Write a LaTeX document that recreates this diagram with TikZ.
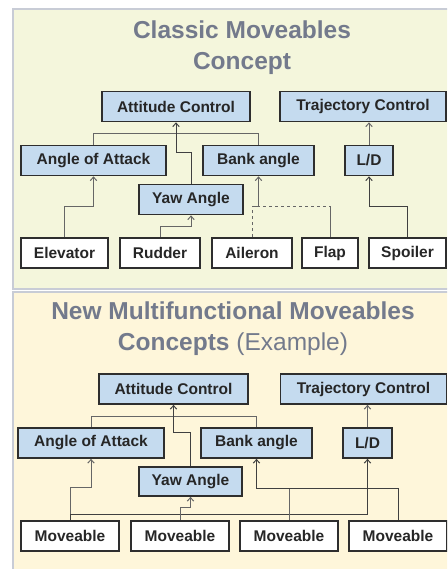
\documentclass[tikz,border=0pt]{standalone}
\usepackage{fontspec}
\setmainfont{Liberation Sans}
\usepackage{tikz}
\usetikzlibrary{positioning}
\usetikzlibrary{arrows.meta}

\definecolor{paneltop}{HTML}{F4F6DC}
\definecolor{panelbot}{HTML}{FEF6DA}
\definecolor{panelrim}{HTML}{C8CCD6}
\definecolor{boxblue}{HTML}{C5DBEF}
\definecolor{boxrim}{HTML}{2E2E2E}
\definecolor{linkgrey}{HTML}{666666}
\definecolor{titlegrey}{HTML}{737A8C}

\tikzset{
  goal/.style={draw=boxrim, line width=1.8pt, fill=boxblue, inner sep=0pt,
    minimum height=30pt, text=black!85,
    font=\bfseries\fontsize{15.5}{16}\selectfont},
  surf/.style={goal, fill=white},
  link/.style={draw=linkgrey, line width=1pt,
    >={Straight Barb[length=3.5pt, width=6.5pt]}},
  title/.style={text=titlegrey, align=center,
    font=\bfseries\fontsize{24.5}{31}\selectfont}
}

\begin{document}
\begin{tikzpicture}[x=1pt, y=-1pt]
  \useasboundingbox (0,0) rectangle (447,569);
  \clip (0,0) rectangle (447,569);

  % Panels
  \draw[panelrim, line width=2.5pt, fill=paneltop] (13,9) rectangle (452,289);
  \draw[panelrim, line width=2.5pt, fill=panelbot] (13,292) rectangle (452,575);

  % Classic concept
  \node[title] (t1) at (242,48) {Classic Moveables\\Concept};

  \node[goal, minimum width=148pt] (att1) at (176,106.5) {Attitude Control};
  \node[goal, minimum width=166pt] (traj1) at (363,106.5) {Trajectory Control};
  \node[goal, minimum width=145pt] (aoa1) at (93.5,160.5) {Angle of Attack};
  \node[goal, minimum width=111pt] (bank1) at (258.5,160.5) {Bank angle};
  \node[goal, minimum width=48pt] (ld1) at (369,160.5) {L/D};
  \node[goal, minimum width=104pt] (yaw1) at (191,199.5) {Yaw Angle};

  \node[surf, minimum width=87pt] (elev) at (64.5,253) {Elevator};
  \node[surf, minimum width=80pt, right=10.2pt of elev] (rud) {Rudder};
  \node[surf, minimum width=80pt, right=10.2pt of rud] (ail) {Aileron};
  \node[surf, minimum width=56pt, right=8.2pt of ail] (flap) {Flap};
  \node[surf, minimum width=77pt, right=9.2pt of flap] (spoil) {Spoiler};

  % Edges
  \draw[link] (aoa1.north) -- ++(0,-11) -| (bank1.north);
  \draw[link, ->, draw=black!75] (yaw1.north) -- ++(0,-31) -| (att1.south);
  \draw[link, ->] (ld1.north) -- (ld1.north |- traj1.south);
  \draw[link, ->] (elev.north) -- ++(0,-31) -| (aoa1.south);
  \draw[link, ->] (rud.north) -- ++(0,-11) -| (yaw1.south);
  \draw[link, dashed] (ail.north) -- ++(0,-31) coordinate (ailj) -- (ailj -| flap.north);
  \draw[link, ->] (ailj) -| (bank1.south);
  \draw[link] (flap.north) -- ++(0,-31);
  \draw[link, ->, draw=black!75] (spoil.north) -- ++(0,-31) -| (ld1.south);

  % Multifunctional concept
  \node[title] (t2) at (233,329) {New Multifunctional Moveables\\Concepts {\mdseries(Example)}};

  \node[goal, minimum width=149pt] (att2) at (173.5,389) {Attitude Control};
  \node[goal, minimum width=166pt] (traj2) at (363.5,389) {Trajectory Control};
  \node[goal, minimum width=146pt] (aoa2) at (91,443) {Angle of Attack};
  \node[goal, minimum width=111pt] (bank2) at (256.5,443) {Bank angle};
  \node[goal, minimum width=49pt] (ld2) at (367.5,443) {L/D};
  \node[goal, minimum width=103pt, minimum height=29pt] (yaw2) at (190.5,481.5) {Yaw Angle};

  \node[surf, minimum width=98pt] (mov1) at (70,536) {Moveable};
  \node[surf, minimum width=98pt, right=10.2pt of mov1] (mov2) {Moveable};
  \node[surf, minimum width=98pt, right=9.2pt of mov2] (mov3) {Moveable};
  \node[surf, minimum width=98pt, right=9.2pt of mov3] (mov4) {Moveable};

  % Edges
  \draw[link] (aoa2.north) -- ++(0,-11) -| (bank2.north);
  \draw[link, ->, draw=black!75] (yaw2.north) -- ++(0,-34) -| (att2.south);
  \draw[link, ->] (ld2.north) -- (ld2.north |- traj2.south);
  \draw[link, ->] (mov1.north) -- ++(0,-33) -| (aoa2.south);
  \draw[link, ->, draw=black!75] (mov1.north) -- ++(0,-6) -| (ld2.south);
  \draw[link, ->] (mov2.north) -- ++(0,-13) -| (yaw2.south);
  \draw[link] (mov3.north) -- ++(0,-32);
  \draw[link, ->, draw=black!75] (mov4.north) -- ++(0,-32) -| (bank2.south);
\end{tikzpicture}
\end{document}
